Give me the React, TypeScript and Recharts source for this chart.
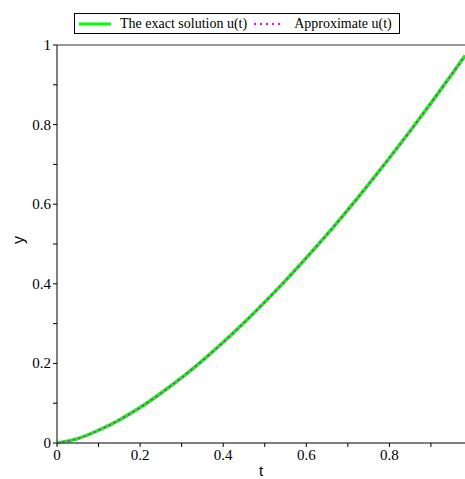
import React from 'react';
import { LineChart, Line, XAxis, YAxis, ReferenceLine } from 'recharts';

const tValues = [0, 0.05, 0.1, 0.15, 0.2, 0.25, 0.3, 0.35, 0.4, 0.45, 0.5, 0.55, 0.6, 0.65, 0.7, 0.75, 0.8, 0.85, 0.9, 0.95, 0.982];
const exactValues = [0, 0.011, 0.032, 0.058, 0.089, 0.125, 0.164, 0.207, 0.253, 0.302, 0.354, 0.408, 0.465, 0.524, 0.586, 0.65, 0.716, 0.784, 0.854, 0.926, 0.973];
const approxValues = [0, 0.011, 0.032, 0.058, 0.089, 0.125, 0.164, 0.207, 0.253, 0.302, 0.354, 0.408, 0.465, 0.524, 0.586, 0.65, 0.716, 0.784, 0.854, 0.926, 0.973];
const xTicks = [0, 0.1, 0.2, 0.3, 0.4, 0.5, 0.6, 0.7, 0.8, 0.9];
const xLabels = ['0', '0.2', '0.4', '0.6', '0.8'];
const yTicks = [0, 0.1, 0.2, 0.3, 0.4, 0.5, 0.6, 0.7, 0.8, 0.9, 1];
const yLabels = ['0', '0.2', '0.4', '0.6', '0.8', '1'];

const data = tValues.map((t, i) => ({ t, exact: exactValues[i], approx: approxValues[i] }));

const serif = 'Liberation Serif, Times New Roman, serif';
const sans = 'Liberation Sans, Arial, sans-serif';

const fmt = (v: number) => String(Math.round(v * 10) / 10);

const XTick = (props: any) => {
  const { x, y, payload } = props;
  const label = fmt(payload.value);
  if (!xLabels.includes(label)) return null;
  return (
    <text x={x} y={y + 11} textAnchor="middle" style={{ fontFamily: serif }} fontSize={15} fill="#000">
      {label}
    </text>
  );
};

const YTick = (props: any) => {
  const { x, y, payload } = props;
  const label = fmt(payload.value);
  if (!yLabels.includes(label)) return null;
  return (
    <text x={x} y={y + 5} textAnchor="end" style={{ fontFamily: serif }} fontSize={15} fill="#000">
      {label}
    </text>
  );
};

const LegendBox = () => (
  <div
    style={{
      position: 'absolute',
      left: 74,
      top: 13,
      border: '1px solid #000',
      width: 326,
      height: 21,
      boxSizing: 'border-box',
      display: 'flex',
      alignItems: 'center',
      fontFamily: serif,
      fontSize: 14,
      background: '#fff',
      zIndex: 2,
    }}
  >
    <svg width={42} height={10} style={{ marginLeft: 3 }}>
      <line x1={1} y1={5} x2={33} y2={5} stroke="#00ff00" strokeWidth={3} />
    </svg>
    <span style={{ whiteSpace: 'nowrap' }}>The exact solution u(t)</span>
    <svg width={44} height={10} style={{ marginLeft: 3 }}>
      <line x1={4} y1={5} x2={34} y2={5} stroke="#ff00ff" strokeWidth={2} strokeDasharray="2 4" />
    </svg>
    <span style={{ whiteSpace: 'nowrap' }}>Approximate u(t)</span>
  </div>
);

export default function App() {
  return (
    <div style={{ position: 'absolute', left: 0, top: 0, width: 465, height: 479, background: '#fff' }}>
      <LegendBox />
      <LineChart width={465} height={479} data={data} margin={{ top: 45, right: 0, bottom: 0, left: 0 }}>
        <XAxis
          dataKey="t"
          type="number"
          domain={[0, 0.982]}
          ticks={xTicks}
          interval={0}
          tick={<XTick />}
          tickSize={4}
          tickLine={{ stroke: '#000' }}
          axisLine={{ stroke: '#555', strokeWidth: 1.5 }}
          height={36}
          label={{ value: 't', position: 'insideBottom', offset: 3, fontFamily: sans, fontSize: 15, fill: '#000' }}
        />
        <YAxis
          type="number"
          domain={[0, 1]}
          ticks={yTicks}
          interval={0}
          tick={<YTick />}
          tickSize={4}
          tickLine={{ stroke: '#000' }}
          axisLine={{ stroke: '#555', strokeWidth: 1.5 }}
          width={57}
          label={{ value: 'y', angle: -90, position: 'insideLeft', offset: 18, fontFamily: sans, fontSize: 16, fill: '#000' }}
        />
        <ReferenceLine y={1} stroke="#777" strokeWidth={1.5} />
        <Line dataKey="exact" type="monotone" stroke="#00ff00" strokeWidth={3.5} dot={false} isAnimationActive={false} />
        <Line dataKey="approx" type="monotone" stroke="#ff00ff" strokeWidth={2} strokeDasharray="2 3.5" dot={false} isAnimationActive={false} />
      </LineChart>
    </div>
  );
}
